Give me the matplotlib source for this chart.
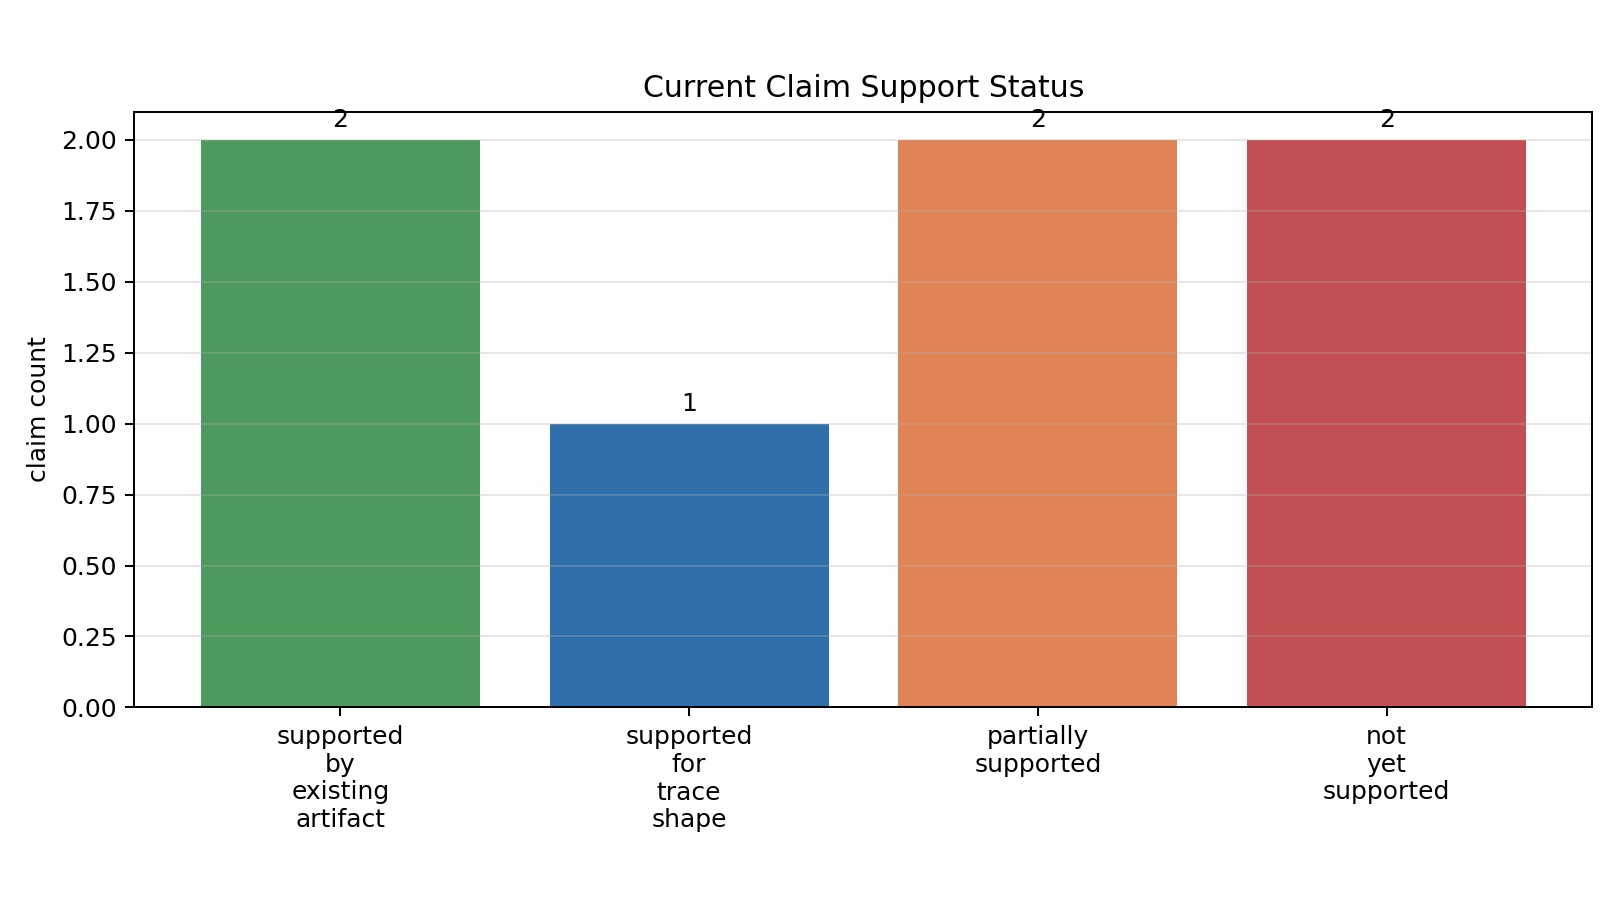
import matplotlib
matplotlib.use("Agg")
import matplotlib.pyplot as plt

categories = ["supported\nby\nexisting\nartifact", "supported\nfor\ntrace\nshape",
              "partially\nsupported", "not\nyet\nsupported"]
counts = [2, 1, 2, 2]
colors = ["#4e9a5c", "#3070aa", "#e08455", "#c44f52"]

fig, ax = plt.subplots(figsize=(9, 5), dpi=180)
bars = ax.bar(range(len(categories)), counts, color=colors, width=0.8)
ax.set_xticks(range(len(categories)))
ax.set_xticklabels(categories)
ax.set_ylim(0, 2.1)
ax.set_ylabel("claim count")
ax.set_title("Current Claim Support Status")
ax.grid(axis="y", alpha=0.3)
ax.bar_label(bars, labels=[str(c) for c in counts], padding=3)
fig.subplots_adjust(left=0.083, right=0.983, top=0.876, bottom=0.214)
fig.savefig("out.png", dpi=180)
